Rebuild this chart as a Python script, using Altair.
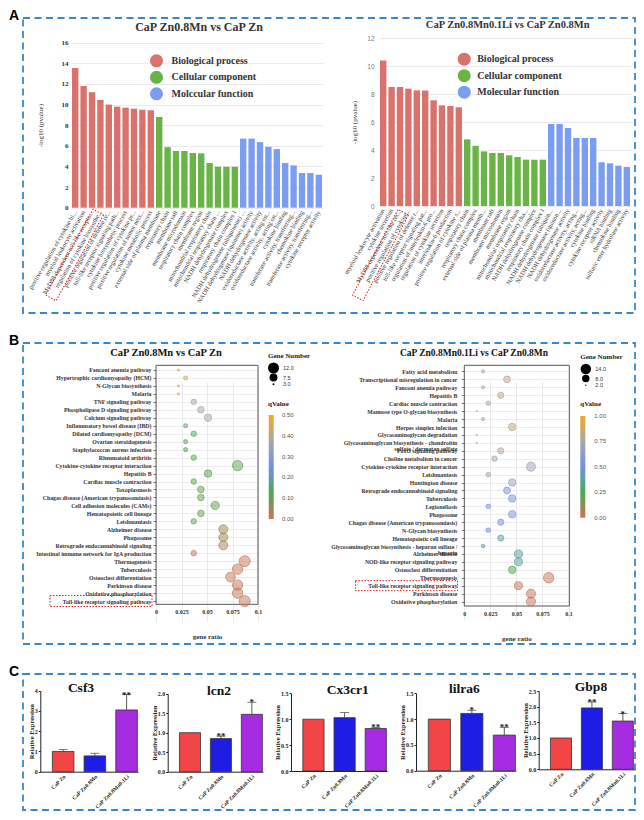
import json
import altair as alt
import pandas as pd

SERIF = "Liberation Serif"
SANS = "Liberation Sans"

# ---------------- Panel A : GO enrichment (-log10 p) ----------------
A_GROUPS_L = ["Biological process", "Cellular component", "Molccular function"]
A_GROUPS_R = ["Biological process", "Cellular component", "Molecular function"]
A_COLORS = ["#d9716c", "#69b347", "#7b9df1"]
A_GROUP_SIZE = 10

A1_TITLE = "CaP Zn0.8Mn vs CaP Zn"
A1_TERMS = [
    "positive regulation of cytokine bi...",
    "myeloid leukocyte activation",
    "MyD88-dependent toll-like recepto...",
    "regulation of cytokine biosynthe...",
    "positive regulation of defense re...",
    "toll-like receptor signaling path...",
    "cytokine biosynthetic process",
    "positive regulation of cytokine pr...",
    "positive regulation of tumor necr...",
    "cytokine metabolic process",
    "external side of plasma membrane",
    "respiratory chain",
    "membrane raft",
    "membrane microdomain",
    "respiratory chain complex",
    "membrane region",
    "mitochondrial respiratory chain",
    "mitochondrial respiratory chain ...",
    "NADH dehydrogenase complex",
    "respiratory chain complex I",
    "NADH dehydrogenase (ubiquinone) ...",
    "NADH dehydrogenase (quinone) activity",
    "NADH dehydrogenase activity",
    "oxidoreductase activity, acting on...",
    "oxidoreductase activity, acting on...",
    "cytokine binding",
    "transferase activity, transferring...",
    "chemokine binding",
    "transferase activity, transferring...",
    "cytokine receptor activity",
]
A1_VALUES = [13.55, 11.8, 11.2, 10.45, 10.0, 9.8, 9.7, 9.6, 9.5, 9.45,
             8.8, 5.87, 5.5, 5.5, 5.3, 5.27, 4.33, 3.97, 3.97, 3.97,
             6.7, 6.7, 6.36, 5.9, 5.68, 4.33, 4.1, 3.36, 3.36, 3.2]
A1_TICKS = [0, 2, 4, 6, 8, 10, 12, 14, 16]

A2_TITLE = "CaP Zn0.8Mn0.1Li vs CaP Zn0.8Mn"
A2_TERMS = [
    "myeloid leukocyte activation",
    "cytokine secretion",
    "MyD88-dependent toll-like rec...",
    "positive regulation of cytokine...",
    "positive regulation of defense r...",
    "toll-like receptor signaling pat...",
    "regulation of interleukin-6 pro...",
    "regulation of cytokine secretion",
    "interleukin-6 production",
    "positive regulation of cytokine s...",
    "respiratory chain",
    "respiratory chain complex",
    "external side of plasma memb...",
    "membrane raft",
    "membrane microdomain",
    "membrane region",
    "mitochondrial respiratory chain",
    "mitochondrial respiratory cha...",
    "NADH dehydrogenase complex",
    "respiratory chain complex I",
    "NADH dehydrogenase (ubiquin...",
    "NADH dehydrogenase (quinon...",
    "NADH dehydrogenase activity",
    "oxidoreductase activity, acting...",
    "oxidoreductase activity, acting...",
    "cytokine binding",
    "cytokine receptor activity",
    "siRNA binding",
    "chemokine binding",
    "sulfuric ester hydrolase activity",
]
A2_VALUES = [10.4, 8.5, 8.5, 8.38, 8.26, 8.25, 7.55, 7.19, 7.14, 7.05,
             4.76, 4.3, 3.9, 3.79, 3.79, 3.62, 3.5, 3.31, 3.31, 3.31,
             5.86, 5.86, 5.57, 4.86, 4.86, 4.86, 3.12, 3.05, 2.88, 2.79]
A2_TICKS = [0, 2, 4, 6, 8, 10, 12]

# ---------------- Panel B : KEGG bubble plots ----------------
Q_COLORS = ["#d0715c", "#4caa4c", "#7090e6", "#aaa6a8", "#f5a623"]
Q_STOPS = [0, 0.25, 0.5, 0.75, 1.0]
B_XTICKS = [0, 0.025, 0.05, 0.075, 0.1]
B_TOLL = "Toll-like receptor signaling pathway"

B1_TITLE = "CaP Zn0.8Mn vs CaP Zn"
B1_TERMS = [
    "Fanconi anemia pathway",
    "Hypertrophic cardiomyopathy (HCM)",
    "N-Glycan biosynthesis",
    "Malaria",
    "TNF signaling pathway",
    "Phospholipase D signaling pathway",
    "Calcium signaling pathway",
    "Inflammatory bowel disease (IBD)",
    "Dilated cardiomyopathy (DCM)",
    "Ovarian steroidogenesis",
    "Staphylococcus aureus infection",
    "Rheumatoid arthritis",
    "Cytokine-cytokine receptor interaction",
    "Hepatitis B",
    "Cardiac muscle contraction",
    "Toxoplasmosis",
    "Chagas disease (American trypanosomiasis)",
    "Cell adhesion molecules (CAMs)",
    "Hematopoietic cell lineage",
    "Leishmaniasis",
    "Alzheimer disease",
    "Phagosome",
    "Retrograde endocannabinoid signaling",
    "Intestinal immune network for IgA production",
    "Thermogenesis",
    "Tuberculosis",
    "Osteoclast differentiation",
    "Parkinson disease",
    "Oxidative phosphorylation",
    "Toll-like receptor signaling pathway",
]
B1_COUNTS = [3, 4, 3, 3, 5, 6, 7, 4, 5, 4, 4, 5, 11, 7, 5, 6, 6, 8, 6, 5,
             9, 9, 9, 5, 12, 11, 10, 11, 11, 12]
B1_RATIOS = [0.022, 0.029, 0.022, 0.022, 0.037, 0.044, 0.051, 0.029, 0.037, 0.029,
             0.029, 0.037, 0.080, 0.051, 0.037, 0.044, 0.044, 0.058, 0.044, 0.037,
             0.066, 0.066, 0.066, 0.037, 0.087, 0.080, 0.073, 0.080, 0.080, 0.087]
B1_Q = [0.48, 0.45, 0.47, 0.47, 0.36, 0.37, 0.37, 0.16, 0.13, 0.13,
        0.13, 0.12, 0.11, 0.11, 0.11, 0.10, 0.10, 0.10, 0.10, 0.10,
        0.05, 0.05, 0.04, 0.02, 0.01, 0.01, 0.01, 0.01, 0.01, 0.01]
B1_QMAX = 0.5
B1_QTICKS = [0, 0.1, 0.2, 0.3, 0.4, 0.5]
B1_SIZE_LEGEND = [12, 7.5, 3]

B2_TITLE = "CaP Zn0.8Mn0.1Li vs CaP Zn0.8Mn"
B2_TERMS = [
    "Fatty acid metabolism",
    "Transcriptional misregulation in cancer",
    "Fanconi anemia pathway",
    "Hepatitis B",
    "Cardiac muscle contraction",
    "Mannose type O-glycan biosynthesis",
    "Malaria",
    "Herpes simplex infection",
    "Glycosaminoglycan degradation",
    "Glycosaminoglycan biosynthesis - chondroitin\nsulfate / dermatan sulfate",
    "FoxO signaling pathway",
    "Choline metabolism in cancer",
    "Cytokine-cytokine receptor interaction",
    "Leishmaniasis",
    "Huntington disease",
    "Retrograde endocannabinoid signaling",
    "Tuberculosis",
    "Legionellosis",
    "Phagosome",
    "Chagas disease (American trypanosomiasis)",
    "N-Glycan biosynthesis",
    "Hematopoietic cell lineage",
    "Glycosaminoglycan biosynthesis - heparan sulfate /\nheparin",
    "Alzheimer disease",
    "NOD-like receptor signaling pathway",
    "Osteoclast differentiation",
    "Thermogenesis",
    "Toll-like receptor signaling pathway",
    "Parkinson disease",
    "Oxidative phosphorylation",
]
B2_COUNTS = [3, 7, 3, 6, 4, 2, 3, 8, 2, 2, 6, 5, 11, 4, 8, 7, 8, 4, 8, 6,
             4, 6, 3, 9, 9, 8, 14, 9, 11, 11]
B2_RATIOS = [0.018, 0.041, 0.018, 0.035, 0.023, 0.012, 0.018, 0.046, 0.012, 0.012,
             0.035, 0.029, 0.064, 0.023, 0.046, 0.041, 0.046, 0.023, 0.046, 0.035,
             0.023, 0.035, 0.018, 0.052, 0.052, 0.046, 0.081, 0.052, 0.064, 0.064]
B2_Q = [0.80, 0.80, 0.80, 0.80, 0.78, 0.80, 0.80, 0.80, 0.80, 0.80,
        0.78, 0.72, 0.70, 0.70, 0.68, 0.57, 0.54, 0.52, 0.55, 0.50,
        0.50, 0.42, 0.40, 0.38, 0.38, 0.26, 0.02, 0.03, 0.02, 0.02]
B2_QMAX = 1.0
B2_QTICKS = [0, 0.25, 0.5, 0.75, 1.0]
B2_SIZE_LEGEND = [14, 8, 2]

# ---------------- Panel C : qPCR bars ----------------
C_GROUPS = ["CaP Zn", "CaP Zn0.8Mn", "CaP Zn0.8Mn0.1Li"]
C_COLORS = ["#f24545", "#1d1de6", "#a52ce0"]
C_GENES = ["Csf3", "lcn2", "Cx3cr1", "lilra6", "Gbp8"]
C_VALUES = [[1.0, 0.78, 3.05], [1.0, 0.85, 1.47], [1.0, 1.03, 0.82],
            [1.0, 1.11, 0.69], [1.0, 1.96, 1.54]]
C_ERR_TOP = [[1.1, 0.91, 3.81], [1.0, 0.91, 1.78], [1.0, 1.13, 0.84],
             [1.0, 1.17, 0.84], [1.0, 2.15, 1.78]]
C_SIG = [["", "", "**"], ["", "**", "*"], ["", "", "**"],
         ["", "*", "**"], ["", "**", "*"]]
C_TICKS = [[0, 1, 2, 3, 4], [0, 0.5, 1.0, 1.5, 2.0], [0, 0.5, 1.0, 1.5],
           [0, 0.5, 1.0, 1.5], [0, 0.5, 1.0, 1.5, 2.0, 2.5]]
C_FORMATS = ["d", ".1f", ".1f", ".1f", ".1f"]

# ---------------- layout (pixels inside each dashed panel) ----------------
W = 612
H_A, H_B, H_C = 295, 301, 136
A_LAYOUT = [
    dict(xr=[48, 300], yr=[189.7, 24.7], title_xy=(176, 8.7), tsize=12, leg=(126.5, 35.8), loff=8,
         lab=dict(labelFont=SERIF, labelFontWeight="bold", labelFontSize=7, labelColor="#333", labelPadding=3),
         tpad=17.5, box=(51.5, 237)),
    dict(xr=[356, 608], yr=[188, 20], title_xy=(484.7, 7), tsize=10.5, leg=(434.2, 34.2), loff=6,
         lab=dict(labelFont=SANS, labelFontWeight="normal", labelFontSize=6.5, labelColor="#777", labelPadding=5),
         tpad=9.5, box=(357.5, 237)),
]
B_LAYOUT = [
    dict(xr=[133, 235], yr=[23, 262], frame=(133, 235, 22.3, 261.3), title_xy=(143, 9.7), tsize=10.5,
         lx=245, ly_size=8.5, lpad=2, box=(78, 102, 0.108),
         qtitle=(245, 60.7), grad=(245.7, 72, 176), qlab_x=259),
    dict(xr=[441.3, 545.5], yr=[24.5, 262.5], frame=(441.3, 546.3, 22.3, 263), title_xy=(451, 9.7), tsize=9.5,
         lx=557.3, ly_size=9.5, lpad=4.5, box=(383.5, 102, 0.098),
         qtitle=(557.3, 61.3), grad=(557.3, 73, 174.7), qlab_x=571.3),
]
C_LAYOUT = [
    dict(xr=[17.3, 115], yr=[97.7, 16.7], title_xy=(58, 14)),
    dict(xr=[144.7, 240], yr=[97.7, 19.7], title_xy=(196, 16.7)),
    dict(xr=[268, 364], yr=[97, 19.3], title_xy=(324.7, 16)),
    dict(xr=[393, 493], yr=[96.7, 19.3], title_xy=(441.3, 15.3)),
    dict(xr=[515.7, 611], yr=[95.3, 17], title_xy=(568, 12.7)),
]


def text_mark(text, x, y, size, font=SERIF, weight="bold", color="#222", align="center", baseline="middle"):
    return alt.Chart(pd.DataFrame({"t": [text]})).mark_text(
        font=font, fontSize=size, fontWeight=weight, color=color, align=align, baseline=baseline
    ).encode(x=alt.value(x), y=alt.value(y), text="t:N")


def box_mark(cx, cy, length, t, angle=0):
    path = f"M-1,-{t}L1,-{t}L1,{t}L-1,{t}Z"
    return alt.Chart(pd.DataFrame({"k": [0]})).mark_point(
        shape=path, size=length * length, angle=angle, filled=False, stroke="#e0201c",
        strokeWidth=1, strokeDash=[1.5, 1.5], opacity=1
    ).encode(x=alt.value(cx), y=alt.value(cy))


# ---------------- Panel A build ----------------
def go_bars(terms, values, groups, ticks, lay):
    grp = []
    for g in groups:
        grp += [g] * A_GROUP_SIZE
    df = pd.DataFrame({"i": list(range(len(terms))), "v": values, "g": grp})
    xr, yr = lay["xr"], lay["yr"]
    return alt.Chart(df).mark_bar().encode(
        x=alt.X("i:O", title=None,
                scale=alt.Scale(range=xr, paddingInner=0.24, paddingOuter=0.12),
                axis=alt.Axis(orient="bottom", offset=-(H_A - yr[0]),
                              labelExpr=json.dumps(terms) + "[datum.value]",
                              labelAngle=300, labelFont=SERIF, labelFontSize=6.4, labelColor="#333",
                              labelPadding=3, ticks=False, domain=False, grid=False,
                              labelOverlap=False, labelBound=False, labelLimit=300)),
        y=alt.Y("v:Q", title="-log10 (pvalue)",
                scale=alt.Scale(domain=[0, ticks[-1]], range=yr, nice=False),
                axis=alt.Axis(orient="left", offset=-xr[0], values=ticks, grid=True,
                              gridColor="#e6e6e6", gridWidth=0.8, domain=False, ticks=False,
                              titleFont=SERIF, titleFontSize=7, titleFontWeight="normal",
                              titleColor="#333", titlePadding=lay["tpad"], **lay["lab"])),
        color=alt.Color("g:N", scale=alt.Scale(domain=groups, range=A_COLORS),
                        legend=alt.Legend(orient="none", legendX=lay["leg"][0], legendY=lay["leg"][1],
                                          title=None, symbolType="circle", symbolSize=170,
                                          symbolStrokeWidth=0, symbolOpacity=1, labelFont=SERIF,
                                          labelFontWeight="bold", labelFontSize=10, labelColor="#333",
                                          labelOffset=lay["loff"], rowPadding=2.5, padding=0,
                                          labelLimit=300)),
    )


rowA = alt.layer(
    go_bars(A1_TERMS, A1_VALUES, A_GROUPS_L, A1_TICKS, A_LAYOUT[0]),
    go_bars(A2_TERMS, A2_VALUES, A_GROUPS_R, A2_TICKS, A_LAYOUT[1]),
    text_mark(A1_TITLE, *A_LAYOUT[0]["title_xy"], A_LAYOUT[0]["tsize"], color="#333"),
    text_mark(A2_TITLE, *A_LAYOUT[1]["title_xy"], A_LAYOUT[1]["tsize"], color="#333"),
    box_mark(*A_LAYOUT[0]["box"], 98, 0.122, 119),
    box_mark(*A_LAYOUT[1]["box"], 97, 0.122, 118),
    text_mark("A", -14, -2, 14, font=SANS, color="#000", align="left"),
).resolve_scale(x="independent", y="independent", color="independent").resolve_axis(
    x="independent", y="independent").resolve_legend(color="independent").properties(width=W, height=H_A)


# ---------------- Panel B build ----------------
def bubbles(terms, counts, ratios, qvals, qmax, size_vals, size_range, lay):
    df = pd.DataFrame({"term": terms, "ratio": ratios, "count": counts, "q": qvals})
    xr, yr = lay["xr"], lay["yr"]
    q_dom = [s * qmax for s in Q_STOPS]
    yscale = alt.Scale(domain=terms, range=yr)
    yaxis = alt.Axis(orient="left", offset=-xr[0], labelExpr="split(datum.value, '\\n')",
                     grid=True, gridColor="#e8e8e8", gridWidth=0.8, domain=False,
                     tickSize=3, tickColor="#555", tickWidth=0.8, labelPadding=lay["lpad"],
                     labelFont=SERIF, labelFontWeight="bold", labelFontSize=5.8, labelColor="#333",
                     labelLineHeight=6, labelOverlap=False, labelBound=False, labelLimit=300)
    xaxis = alt.Axis(orient="bottom", offset=-(H_B - lay["frame"][3]), values=B_XTICKS,
                     format=".3~f",
                     grid=True, gridColor="#e3e3e3", gridWidth=0.8, domain=False, ticks=False,
                     labelFlush=False, labelFont=SERIF, labelFontWeight="bold", labelFontSize=6,
                     labelColor="#333", labelPadding=4, titleFont=SERIF, titleFontWeight="bold",
                     titleFontSize=7, titleColor="#333", titlePadding=18)
    ye = alt.Y("term:N", title=None, scale=yscale, axis=yaxis)
    cscale = alt.Scale(domain=q_dom, range=Q_COLORS, interpolate="rgb")
    circles = alt.Chart(df).mark_circle(opacity=1, fillOpacity=0.5, strokeOpacity=0.85, strokeWidth=0.8).encode(
        x=alt.X("ratio:Q", title="gene ratio",
                scale=alt.Scale(domain=[0, 0.1], range=xr, nice=False, zero=False), axis=xaxis),
        y=ye,
        size=alt.Size("count:Q", scale=alt.Scale(domain=[min(counts), max(counts)], range=size_range),
                      legend=alt.Legend(orient="none", legendX=lay["lx"], legendY=lay["ly_size"],
                                        title="Gene Number", values=size_vals, format=".1f",
                                        symbolType="circle", symbolFillColor="black",
                                        symbolStrokeColor="black", symbolStrokeWidth=0, symbolOpacity=1,
                                        labelFont=SANS, labelFontSize=5.5, labelColor="#333", labelOffset=4,
                                        titleFont=SERIF, titleFontWeight="bold", titleFontSize=7,
                                        titleColor="#222", titlePadding=4, padding=0, rowPadding=0)),
        fill=alt.Fill("q:Q", scale=cscale, legend=None),
        stroke=alt.Stroke("q:Q", scale=cscale, legend=None),
    )
    bx, blen, bt = lay["box"]
    redbox = alt.Chart(pd.DataFrame({"term": [B_TOLL]})).mark_point(
        shape=f"M-1,-{bt}L1,-{bt}L1,{bt}L-1,{bt}Z", size=blen * blen, filled=False,
        stroke="#e0201c", strokeWidth=1, strokeDash=[1.5, 1.5], opacity=1
    ).encode(x=alt.value(bx), y=ye)
    return alt.layer(circles, redbox)


def q_legend(qmax, qticks, lay):
    gx, gtop, gbot = lay["grad"]
    ls = alt.Scale(domain=[0, qmax], range=[gbot, gtop], nice=False, zero=False)
    grad = alt.LinearGradient(gradient="linear", x1=0, x2=0, y1=1, y2=0,
                              stops=[alt.GradientStop(offset=s, color=c) for s, c in zip(Q_STOPS, Q_COLORS)])
    bar = alt.Chart(pd.DataFrame({"lo": [0], "hi": [qmax]})).mark_rect(fill=grad).encode(
        x=alt.value(gx), x2=alt.value(gx + 5),
        y=alt.Y("lo:Q", scale=ls, axis=None), y2="hi:Q")
    labels = alt.Chart(pd.DataFrame({"q": qticks})).mark_text(
        align="left", baseline="middle", font=SANS, fontSize=6, color="#555"
    ).encode(x=alt.value(lay["qlab_x"]), y=alt.Y("q:Q", scale=ls, axis=None),
             text=alt.Text("q:Q", format=".2f"))
    return alt.layer(bar, labels)


def frame(lay):
    x1, x2, y1, y2 = lay["frame"]
    return alt.Chart(pd.DataFrame({"k": [0]})).mark_rect(
        fillOpacity=0, stroke="#555", strokeWidth=1
    ).encode(x=alt.value(x1), x2=alt.value(x2), y=alt.value(y1), y2=alt.value(y2))


rowB = alt.layer(
    frame(B_LAYOUT[0]),
    frame(B_LAYOUT[1]),
    bubbles(B1_TERMS, B1_COUNTS, B1_RATIOS, B1_Q, B1_QMAX, B1_SIZE_LEGEND, [4, 121], B_LAYOUT[0]),
    bubbles(B2_TERMS, B2_COUNTS, B2_RATIOS, B2_Q, B2_QMAX, B2_SIZE_LEGEND, [2, 110], B_LAYOUT[1]),
    q_legend(B1_QMAX, B1_QTICKS, B_LAYOUT[0]),
    q_legend(B2_QMAX, B2_QTICKS, B_LAYOUT[1]),
    text_mark("qValue", *B_LAYOUT[0]["qtitle"], 7, align="left"),
    text_mark("qValue", *B_LAYOUT[1]["qtitle"], 7, align="left"),
    text_mark(B1_TITLE, *B_LAYOUT[0]["title_xy"], B_LAYOUT[0]["tsize"], color="#111"),
    text_mark(B2_TITLE, *B_LAYOUT[1]["title_xy"], B_LAYOUT[1]["tsize"], color="#111"),
    text_mark("B", -14, -2, 14, font=SANS, color="#000", align="left"),
).resolve_scale(x="independent", y="independent", size="independent", fill="independent",
                stroke="independent").resolve_axis(x="independent", y="independent").resolve_legend(
    size="independent").properties(width=W, height=H_B)


# ---------------- Panel C build ----------------
def qpcr(vals, errs, sigs, ticks, fmt, lay):
    df = pd.DataFrame({"grp": C_GROUPS, "v": vals, "e": errs, "s": sigs})
    xr, yr = lay["xr"], lay["yr"]
    xs = alt.Scale(domain=C_GROUPS, range=xr, paddingInner=0.32, paddingOuter=0.2, align=0.95)
    ys = alt.Scale(domain=[0, ticks[-1]], range=yr, nice=False)
    xaxis = alt.Axis(orient="bottom", offset=-(H_C - yr[0]), labelAngle=315, labelFont=SERIF,
                     labelFontWeight="bold", labelFontSize=5.5, labelColor="#222", labelPadding=2,
                     ticks=False, domainColor="#222", domainWidth=1, grid=False,
                     labelOverlap=False, labelBound=False)
    yaxis = alt.Axis(orient="left", offset=-xr[0], values=ticks, format=fmt, grid=False,
                     domainColor="#222", domainWidth=1, tickColor="#222", tickSize=2,
                     labelPadding=1, labelFont=SERIF, labelFontWeight="bold", labelFontSize=6,
                     labelColor="#222", titleFont=SERIF, titleFontWeight="bold", titleFontSize=6.5,
                     titleColor="#222", titlePadding=0)
    xe = alt.X("grp:N", title=None, scale=xs, axis=xaxis)
    YT = "Relative Expression"
    bars = alt.Chart(df).mark_bar(stroke="#333", strokeWidth=0.8).encode(
        x=xe,
        y=alt.Y("v:Q", title=YT, scale=ys, axis=yaxis),
        fill=alt.Fill("grp:N", scale=alt.Scale(domain=C_GROUPS, range=C_COLORS), legend=None),
    )
    rule = alt.Chart(df).transform_filter("datum.e > datum.v").mark_rule(color="#333", strokeWidth=0.8).encode(
        x=xe, y=alt.Y("v:Q", title=YT, scale=ys, axis=yaxis), y2="e:Q")
    cap = alt.Chart(df).transform_filter("datum.e > datum.v").mark_tick(
        orient="horizontal", size=9, thickness=0.9, color="#333").encode(
        x=xe, y=alt.Y("e:Q", title=YT, scale=ys, axis=yaxis))
    star = alt.Chart(df).mark_text(font=SERIF, fontWeight="bold", fontSize=9, color="#222",
                                   baseline="alphabetic", dy=3).encode(
        x=xe, y=alt.Y("e:Q", title=YT, scale=ys, axis=yaxis), text="s:N")
    return alt.layer(bars, rule, cap, star)


c_layers = []
for k in range(len(C_GENES)):
    c_layers.append(qpcr(C_VALUES[k], C_ERR_TOP[k], C_SIG[k], C_TICKS[k], C_FORMATS[k], C_LAYOUT[k]))
for k in range(len(C_GENES)):
    c_layers.append(text_mark(C_GENES[k], *C_LAYOUT[k]["title_xy"], 13.5, color="#111"))
c_layers.append(text_mark("C", -14, -2, 14, font=SANS, color="#000", align="left"))

rowC = alt.layer(*c_layers).resolve_scale(x="independent", y="independent", fill="independent").resolve_axis(
    x="independent", y="independent").properties(width=W, height=H_C)

chart = alt.vconcat(rowA, rowB, rowC, spacing=30, bounds="flush").properties(padding=0).configure_view(
    stroke="#3a87c8", strokeDash=[7, 4.5], strokeWidth=1.8
).configure_legend(symbolBaseFillColor="black", symbolBaseStrokeColor="black")

chart.save("out.html", embed_options={"renderer": "svg", "actions": False})
